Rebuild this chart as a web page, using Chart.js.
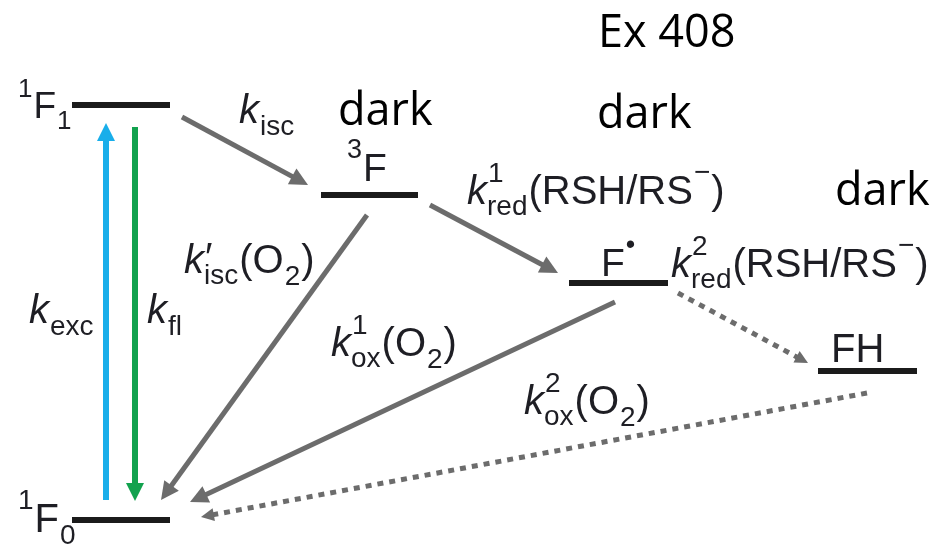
<!DOCTYPE html>
<html>
<head>
<meta charset="utf-8">
<script src="https://cdn.jsdelivr.net/npm/chart.js"></script>
<style>
body { margin: 0; background: #fff; }
#wrap { width: 938px; height: 552px; }
</style>
</head>
<body>
<div id="wrap"><canvas id="scheme_Chart"></canvas></div>
<script>
// energy levels (x from / to, level height counted from top)
const levelNames = ['1F1', '3F', 'F*', 'FH', '1F0'];
const levelX0 = [72, 321, 569, 818, 72];
const levelX1 = [170, 418, 668, 917, 170];
const levelY = [105, 195, 283, 371, 520];

// transitions: start -> arrow tip
const arrowNames = ['kexc', 'kfl', 'kisc', "k'isc", 'k1red', 'k1ox', 'k2red', 'k2ox'];
const arrowFrom = [[106, 500], [135, 127], [182, 117], [367, 215], [430, 205], [615, 302], [678, 293], [867, 393]];
const arrowTo = [[106, 123], [135, 501], [308, 185], [161, 500], [558, 273], [190, 502], [808, 363], [201, 517]];
const arrowColors = ['#19aeea', '#12a24e', '#6c6c6c', '#6c6c6c', '#6c6c6c', '#6c6c6c', '#6c6c6c', '#6c6c6c'];
const arrowDotted = [false, false, false, false, false, false, true, true];

// rate / state labels: [text, kind]  kind: n normal, i italic, sub, sup, ss (sup|sub)
const labelRuns = [
    [['1', 'sup'], ['F', 'n'], ['1', 'sub']],
    [['3', 'sup'], ['F', 'n']],
    [['F', 'n'], ['•', 'sup']],
    [['FH', 'n']],
    [['1', 'sup'], ['F', 'n'], ['0', 'sub']],
    [['k', 'i'], ['isc', 'sub']],
    [['k', 'i'], ['′|isc', 'ss'], ['(O', 'n'], ['2', 'sub'], [')', 'n']],
    [['k', 'i'], ['exc', 'sub']],
    [['k', 'i'], ['fl', 'sub']],
    [['k', 'i'], ['1|red', 'ss'], ['(RSH/RS', 'n'], ['−', 'sup'], [')', 'n']],
    [['k', 'i'], ['2|red', 'ss'], ['(RSH/RS', 'n'], ['−', 'sup'], [')', 'n']],
    [['k', 'i'], ['1|ox', 'ss'], ['(O', 'n'], ['2', 'sub'], [')', 'n']],
    [['k', 'i'], ['2|ox', 'ss'], ['(O', 'n'], ['2', 'sub'], [')', 'n']]
];
const labelX = [17, 346, 601, 831, 17, 239, 184, 29, 147, 467, 671, 331, 524];
const labelY = [118, 181, 276, 362, 532, 123, 273, 323, 323, 204, 277, 356, 414];
const labelSize = [37, 39, 39, 40, 40, 40, 40, 40, 40, 40, 40, 40, 40];

// notes written on top
const noteText = ['dark', 'Ex 408', 'dark', 'dark'];
const noteX = [338, 598, 597, 835];
const noteY = [125, 47, 128, 205];

const ctx = document.getElementById('scheme_Chart');
const headLen = 18;

let datasets = [];
for (let i = 0; i < levelNames.length; i++) {
    datasets.push({
        label: levelNames[i],
        data: [{x: levelX0[i], y: levelY[i]}, {x: levelX1[i], y: levelY[i]}],
        showLine: true,
        borderColor: '#1b1b1b',
        borderWidth: 6,
        borderCapStyle: 'butt',
        pointRadius: 0
    });
}
for (let i = 0; i < arrowNames.length; i++) {
    const f = arrowFrom[i], t = arrowTo[i];
    const dx = t[0] - f[0], dy = t[1] - f[1];
    const len = Math.sqrt(dx * dx + dy * dy);
    const hl = arrowDotted[i] ? 13 : headLen;
    // line stops under the head, the plugin draws the head up to the tip
    const back = hl * 0.6;
    datasets.push({
        label: arrowNames[i],
        data: [{x: f[0], y: f[1]}, {x: t[0] - dx / len * back, y: t[1] - dy / len * back}],
        showLine: true,
        borderColor: arrowColors[i],
        borderWidth: arrowDotted[i] ? 5 : (i < 2 ? 6 : 5),
        borderDash: arrowDotted[i] ? [6, 6] : [],
        borderCapStyle: 'butt',
        pointRadius: 0,
        tip: {x: t[0], y: t[1]},
        headLen: hl
    });
}

const arrowHeads = {
    id: 'arrowHeads',
    afterDatasetsDraw(chart) {
        const c = chart.ctx, sx = chart.scales.x, sy = chart.scales.y;
        chart.data.datasets.forEach((ds) => {
            if (!ds.tip) return;
            const p0 = ds.data[0];
            const x0 = sx.getPixelForValue(p0.x), y0 = sy.getPixelForValue(p0.y);
            const tx = sx.getPixelForValue(ds.tip.x), ty = sy.getPixelForValue(ds.tip.y);
            const a = Math.atan2(ty - y0, tx - x0);
            const L = ds.headLen, W = L * 0.5;
            c.save();
            c.fillStyle = ds.borderColor;
            c.beginPath();
            c.moveTo(tx, ty);
            c.lineTo(tx - L * Math.cos(a) + W * Math.sin(a), ty - L * Math.sin(a) - W * Math.cos(a));
            c.lineTo(tx - L * Math.cos(a) - W * Math.sin(a), ty - L * Math.sin(a) + W * Math.cos(a));
            c.closePath();
            c.fill();
            c.restore();
        });
    }
};

function drawRuns(c, x, y, size, runs) {
    const fam = '"Liberation Sans", Arial, sans-serif';
    const small = Math.round(size * 0.7);
    runs.forEach(([t, kind]) => {
        if (kind === 'ss') {
            const parts = t.split('|');
            // a prime is shown at full size
            const supSize = parts[0] === '′' ? size : small;
            c.font = supSize + 'px ' + fam;
            const wa = c.measureText(parts[0]).width;
            c.fillText(parts[0], x + 1, y - size * (parts[0] === '′' ? 0.05 : 0.55));
            c.font = small + 'px ' + fam;
            const w = Math.max(wa, c.measureText(parts[1]).width);
            c.fillText(parts[1], x, y + size * 0.28);
            x += w + 1;
        } else if (kind === 'sub') {
            c.font = small + 'px ' + fam;
            c.fillText(t, x + 1, y + size * 0.3);
            x += c.measureText(t).width + 2;
        } else if (kind === 'sup') {
            c.font = small + 'px ' + fam;
            c.fillText(t, x + 1, y - size * 0.58);
            x += c.measureText(t).width + 2;
        } else {
            c.font = (kind === 'i' ? 'italic ' : '') + size + 'px ' + fam;
            c.fillText(t, x, y);
            x += c.measureText(t).width;
        }
    });
}

const schemeText = {
    id: 'schemeText',
    afterDraw(chart) {
        const c = chart.ctx, sx = chart.scales.x, sy = chart.scales.y;
        c.save();
        c.textBaseline = 'alphabetic';
        c.textAlign = 'left';
        c.fillStyle = '#1e1e24';
        for (let i = 0; i < labelRuns.length; i++) {
            drawRuns(c, sx.getPixelForValue(labelX[i]), sy.getPixelForValue(labelY[i]), labelSize[i], labelRuns[i]);
        }
        c.fillStyle = '#000';
        c.font = '45px "Open Sans", sans-serif';
        for (let i = 0; i < noteText.length; i++) {
            c.fillText(noteText[i], sx.getPixelForValue(noteX[i]), sy.getPixelForValue(noteY[i]));
        }
        c.restore();
    }
};

new Chart(ctx, {
    type: 'scatter',
    data: { datasets: datasets },
    options: {
        animation: false,
        responsive: true,
        maintainAspectRatio: false,
        layout: { padding: 0 },
        scales: {
            x: { type: 'linear', min: 0, max: 938, display: false },
            y: { type: 'linear', min: 0, max: 552, reverse: true, display: false }
        },
        plugins: {
            legend: { display: false },
            tooltip: { enabled: false }
        }
    },
    plugins: [arrowHeads, schemeText]
});
</script>
</body>
</html>
